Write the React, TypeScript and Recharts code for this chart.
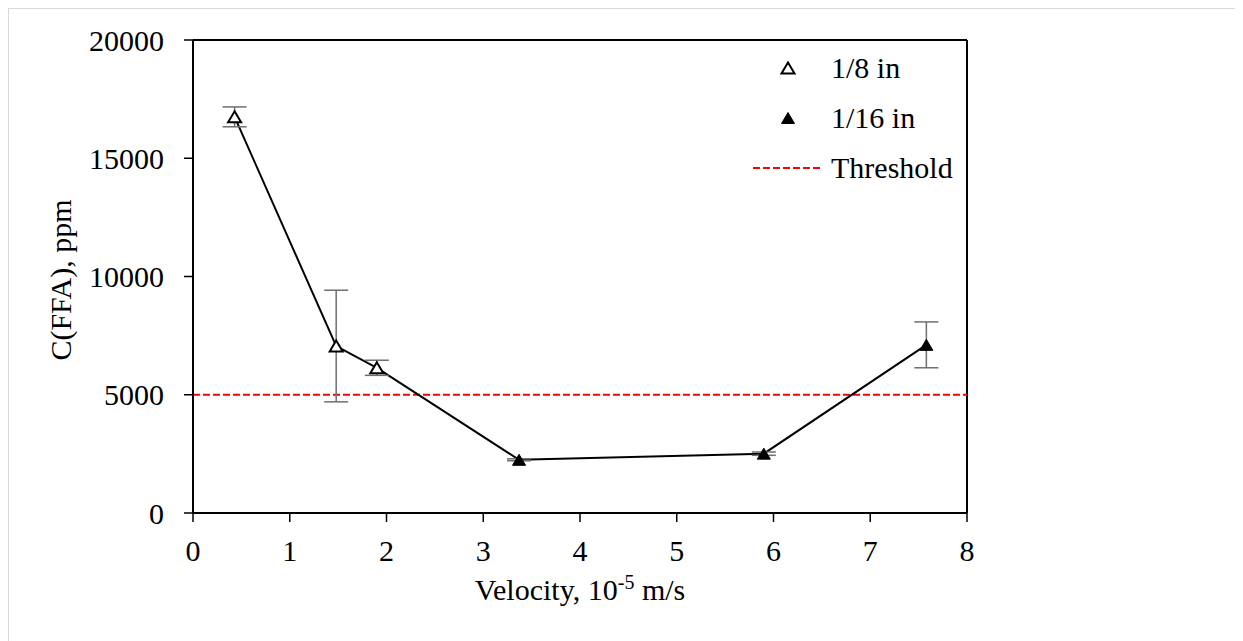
import { ComposedChart, Line, Scatter, XAxis, YAxis, ErrorBar, ReferenceLine, Legend } from 'recharts';

const FONT = '"Liberation Serif", "Times New Roman", serif';

// 1/8 in tubing
const velocityEighth = [0.43, 1.48, 1.9];
const ffaEighth = [16750, 7060, 6140];
const errEighth = [420, 2360, 320];

// 1/16 in tubing
const velocitySixteenth = [3.37, 5.9, 7.58];
const ffaSixteenth = [2250, 2510, 7110];
const errSixteenth = [40, 70, 970];

const thresholdPpm = 5000;
const xTicks = [0, 1, 2, 3, 4, 5, 6, 7, 8];
const yTicks = [0, 5000, 10000, 15000, 20000];
const xMax = 8;
const yMax = 20000;

const eighthData = velocityEighth.map((x, i) => ({ x, y: ffaEighth[i], err: errEighth[i] }));
const sixteenthData = velocitySixteenth.map((x, i) => ({ x, y: ffaSixteenth[i], err: errSixteenth[i] }));
// one line runs through both sizes
const allData = [...eighthData, ...sixteenthData];

const Triangle = ({ cx, cy, filled }: any) => {
  const w = 13;
  const h = 11;
  const pts = `${cx},${cy - h / 2} ${cx + w / 2},${cy + h / 2} ${cx - w / 2},${cy + h / 2}`;
  return (
    <polygon
      points={pts}
      fill={filled ? '#000' : '#fff'}
      stroke="#000"
      strokeWidth={filled ? 1 : 2}
    />
  );
};

const legendItems = [
  { name: '1/8 in', kind: 'open' },
  { name: '1/16 in', kind: 'filled' },
  { name: 'Threshold', kind: 'dash' },
];

const LegendBox = () => (
  <div style={{ fontFamily: FONT, fontSize: 30, color: '#000' }}>
    {legendItems.map((it) => (
      <div key={it.name} style={{ display: 'flex', alignItems: 'center', height: 50 }}>
        <svg width={70} height={20} style={{ marginRight: 8 }}>
          {it.kind === 'dash' ? (
            <line x1={0} x2={70} y1={10} y2={10} stroke="#ff0000" strokeWidth={2} strokeDasharray="7 3" />
          ) : (
            <Triangle cx={35} cy={10} filled={it.kind === 'filled'} />
          )}
        </svg>
        <span>{it.name}</span>
      </div>
    ))}
  </div>
);

const XTitle = ({ viewBox }: any) => (
  <text
    x={viewBox.x + viewBox.width / 2}
    y={viewBox.y + 87}
    textAnchor="middle"
    fontFamily={FONT}
    fontSize={30}
    fill="#000"
  >
    Velocity, 10<tspan dy={-11} fontSize={20}>-5</tspan>
    <tspan dy={11}> m/s</tspan>
  </text>
);

const YTitle = ({ viewBox }: any) => {
  const x = viewBox.x - 33;
  const y = 271;
  return (
    <text
      x={x}
      y={y}
      transform={`rotate(-90, ${x}, ${y})`}
      textAnchor="middle"
      dominantBaseline="central"
      fontFamily={FONT}
      fontSize={30}
      fill="#000"
    >
      C(FFA), ppm
    </text>
  );
};

const tickStyle = { fontFamily: FONT, fontSize: 30, fill: '#000' };

export default function App() {
  return (
    <div
      style={{
        position: 'relative',
        width: 1235,
        height: 633,
        boxSizing: 'border-box',
        borderTop: '1px solid #d9d9d9',
        borderLeft: '1px solid #d9d9d9',
        background: '#fff',
      }}
    >
      <ComposedChart
        width={1234}
        height={632}
        margin={{ top: 31, right: 276, bottom: 68, left: 84 }}
      >
        <XAxis
          type="number"
          dataKey="x"
          domain={[0, xMax]}
          ticks={xTicks}
          interval={0}
          tick={tickStyle}
          tickSize={9}
          tickMargin={18}
          height={60}
          axisLine={{ stroke: '#000', strokeWidth: 2 }}
          tickLine={{ stroke: '#000', strokeWidth: 1.5 }}
          label={{ content: XTitle }}
        />
        <YAxis
          type="number"
          dataKey="y"
          domain={[0, yMax]}
          ticks={yTicks}
          interval={0}
          tick={tickStyle}
          tickSize={9}
          tickMargin={20}
          width={100}
          axisLine={{ stroke: '#000', strokeWidth: 2 }}
          tickLine={{ stroke: '#000', strokeWidth: 1.5 }}
          label={{ content: YTitle }}
        />
        {/* plot frame: top and right edges */}
        <ReferenceLine y={yMax} stroke="#000" strokeWidth={2} />
        <ReferenceLine x={xMax} stroke="#000" strokeWidth={2} />
        <ReferenceLine
          y={thresholdPpm}
          stroke="#ff0000"
          strokeWidth={2}
          strokeDasharray="7 3"
        />
        <Line
          data={allData}
          dataKey="y"
          stroke="#000"
          strokeWidth={2}
          dot={false}
          activeDot={false}
          legendType="none"
          isAnimationActive={false}
        />
        <Scatter
          name="1/8 in"
          data={eighthData}
          shape={(p: any) => <Triangle cx={p.cx} cy={p.cy} filled={false} />}
          isAnimationActive={false}
        >
          <ErrorBar dataKey="err" direction="y" width={12} stroke="#6e6e6e" strokeWidth={1.5} />
        </Scatter>
        <Scatter
          name="1/16 in"
          data={sixteenthData}
          shape={(p: any) => <Triangle cx={p.cx} cy={p.cy} filled />}
          isAnimationActive={false}
        >
          <ErrorBar dataKey="err" direction="y" width={12} stroke="#6e6e6e" strokeWidth={1.5} />
        </Scatter>
        <Legend
          layout="horizontal"
          verticalAlign="middle"
          align="center"
          content={LegendBox}
          wrapperStyle={{ left: 744, top: 34, width: 'auto' }}
        />
      </ComposedChart>
    </div>
  );
}
